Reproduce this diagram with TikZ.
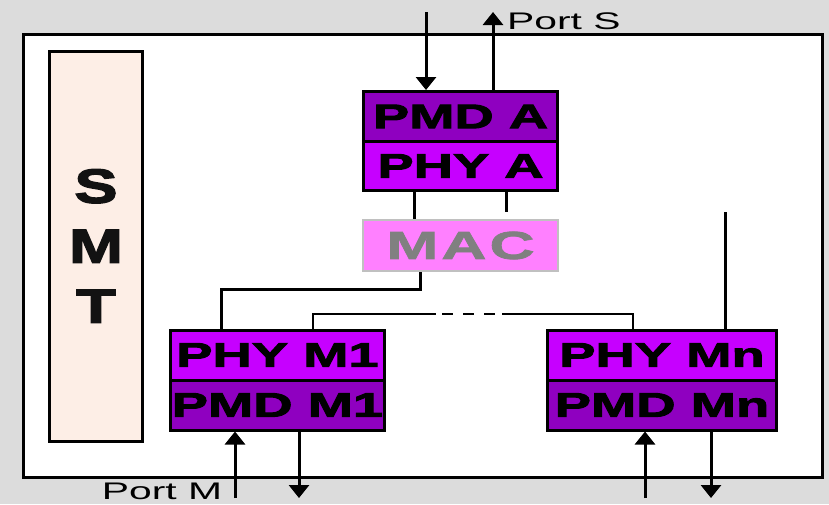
\documentclass[tikz,border=0pt]{standalone}
\usepackage{fontspec}
\setmainfont{Liberation Sans}
\newfontfamily\blkfont{Liberation Sans}[FakeStretch=1.6,BoldFeatures={FakeBold=3}]
\newfontfamily\smtfont{Liberation Sans}[FakeStretch=1.35,BoldFeatures={FakeBold=3}]
\newfontfamily\macfont{Liberation Sans}[FakeStretch=1.6,LetterSpace=8,BoldFeatures={FakeBold=2}]
\newfontfamily\portfont{Liberation Sans}[FakeStretch=1.7]
\usetikzlibrary{arrows.meta,positioning}
\definecolor{bggray}{RGB}{220,220,220}
\definecolor{pmdpurple}{RGB}{143,0,192}
\definecolor{phypurple}{RGB}{198,0,255}
\definecolor{macpink}{RGB}{255,128,255}
\definecolor{macgray}{RGB}{128,128,128}
\definecolor{macedge}{RGB}{192,192,192}
\definecolor{smtpeach}{RGB}{253,238,230}
\begin{document}
\begin{tikzpicture}[x=1pt,y=-1pt,
        box/.style={draw, line width=3pt, inner sep=0pt, minimum width=194pt, minimum height=50pt,
            font=\blkfont\bfseries\fontsize{34}{34}\selectfont},
        pmd/.style={box, fill=pmdpurple},
        phy/.style={box, fill=phypurple},
        conn/.style={line width=3pt},
        bus/.style={line width=1.5pt},
        arr/.style={conn, -{Triangle[width=20pt,length=13pt]}},
        port/.style={inner sep=0pt, font=\portfont\fontsize{24}{24}\selectfont}
    ]
        \useasboundingbox (0,0) rectangle (829,504);
        \fill[bggray] (0,0) rectangle (829,504);

        \node[draw, line width=3pt, fill=white, minimum width=799pt, minimum height=442.5pt] (frame) at (423,255.75) {};
        \node[draw, line width=3pt, fill=smtpeach, inner sep=0pt, minimum width=93pt, minimum height=390pt,
            align=center, font=\smtfont\bfseries\fontsize{48}{60}\selectfont, text=black!93] (smt) at (96,246) {S\\M\\T};

        % station side
        \node[pmd] (pmda) at (460.5,116.5) {PMD A};
        \node[phy, minimum height=49pt, below=-3pt of pmda] (phya) {PHY A};
        \node[draw=macedge, line width=2.5pt, fill=macpink, text=macgray, inner sep=0pt, minimum width=195pt,
            minimum height=51pt, font=\macfont\bfseries\fontsize{39}{39}\selectfont] (mac) at (460.5,245.5) {MAC};

        % master side
        \node[phy, minimum width=214pt] (phym1) at (277.5,355) {PHY M1};
        \node[pmd, minimum width=214pt, below=-3pt of phym1] (pmdm1) {PMD M1};
        \node[phy, minimum width=229pt] (phymn) at (662,355) {PHY Mn};
        \node[pmd, minimum width=229pt, below=-3pt of phymn] (pmdmn) {PMD Mn};

        \coordinate (sin) at (426,12);
        \coordinate (sout) at (493,12);
        \coordinate (ma) at (414,0);
        \coordinate (mb) at (506,212);
        \coordinate (macdrop) at (420,289);
        \coordinate (m1in) at (221,0);
        \coordinate (busl) at (313,314);
        \coordinate (busr) at (633,314);
        \coordinate (mntop) at (725,212);
        \coordinate (m1rx) at (235,498);
        \coordinate (m1tx) at (299,498);
        \coordinate (mnrx) at (645,498);
        \coordinate (mntx) at (711,498);

        \draw[arr] (sin) -- (sin |- pmda.north);
        \draw[arr] (sout |- pmda.north) -- (sout);
        \node[port, anchor=west] (ports) at (507,21) {Port S};

        \draw[conn] (ma |- phya.south) -- (ma |- mac.north);
        \draw[conn] (mb |- phya.south) -- (mb);
        \draw[conn] (macdrop |- mac.south) -- (macdrop) -| (m1in |- phym1.north);

        \draw[bus] (busl |- phym1.north) -- (busl) -- (436,314);
        \draw[bus, dash pattern=on 11pt off 10pt] (442,314) -- (498,314);
        \draw[bus] (502,314) -- (busr) -- (busr |- phymn.north);
        \draw[conn] (mntop) -- (mntop |- phymn.north);

        \draw[arr] (m1rx) -- (m1rx |- pmdm1.south);
        \draw[arr] (m1tx |- pmdm1.south) -- (m1tx);
        \draw[arr] (mnrx) -- (mnrx |- pmdmn.south);
        \draw[arr] (mntx |- pmdmn.south) -- (mntx);
        \node[port] (portm) at (162,491) {Port M};
    \end{tikzpicture}
\end{document}
